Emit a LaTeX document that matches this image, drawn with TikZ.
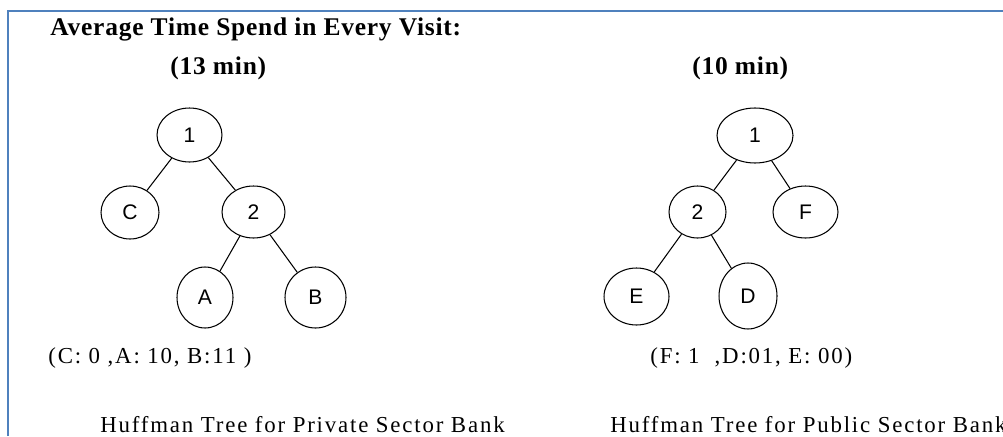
\documentclass[tikz,border=0pt]{standalone}
\usepackage{fontspec}
\setmainfont{Liberation Serif}
\setsansfont{Liberation Sans}
\usetikzlibrary{shapes.geometric}
\definecolor{framecol}{HTML}{4F81BD}

\tikzset{
  hnode/.style={draw,ellipse,inner sep=0pt,line width=0.6pt,font=\sffamily\fontsize{12}{14}\selectfont},
  hedge/.style={line width=0.6pt},
  heading/.style={anchor=west,inner sep=0pt,font=\bfseries\fontsize{14.5}{17}\selectfont\addfontfeatures{LetterSpace=3}},
  codes/.style={anchor=west,inner sep=0pt,font=\fontsize{13}{15}\selectfont\addfontfeatures{LetterSpace=8}}
}

\begin{document}
\begin{tikzpicture}[x=0.02cm,y=-0.02cm]
  \useasboundingbox (0,0) rectangle (1003,436);
  \clip (0,0) rectangle (1003,436);
  % frame
  \draw[framecol,line width=1.1pt] (8,436) -- (8,11) -- (1003,11);

  \node[heading] (title) at (50,29) {Average Time Spend in Every Visit:};
  \node[heading] (tl) at (170,68) {(13 min)};
  \node[heading] (tr) at (692,68) {(10 min)};

  % private sector tree
  \node (p1) at (189.5,135) [hnode,minimum width=1.30cm,minimum height=1.08cm] {1};
  \node (pc) at (130,212.5) [hnode,minimum width=1.16cm,minimum height=1.06cm] {C};
  \node (p2) at (253.5,212) [hnode,minimum width=1.26cm,minimum height=1.04cm] {2};
  \node (pa) at (205,297.5) [hnode,minimum width=1.12cm,minimum height=1.22cm] {A};
  \node (pb) at (315.5,297.5) [hnode,minimum width=1.22cm,minimum height=1.22cm] {B};
  \draw[hedge] (p1) -- (pc) (p1) -- (p2) (p2) -- (pa) (p2) -- (pb);

  % public sector tree
  \node (q1) at (755,135.5) [hnode,minimum width=1.52cm,minimum height=1.10cm] {1};
  \node (q2) at (697.5,212) [hnode,minimum width=1.14cm,minimum height=1.04cm] {2};
  \node (qf) at (805.5,212) [hnode,minimum width=1.30cm,minimum height=1.04cm] {F};
  \node (qe) at (636.5,296.5) [hnode,minimum width=1.30cm,minimum height=1.14cm] {E};
  \node (qd) at (748,296) [hnode,minimum width=1.16cm,minimum height=1.32cm] {D};
  \draw[hedge] (q1) -- (q2) (q1) -- (qf) (q2) -- (qe) (q2) -- (qd);

  \node[codes] (pcode) at (48,358) {(C: 0 ,A: 10, B:11 )};
  \node[codes] (qcode) at (650,358) {(F: 1\ \ ,D:01, E: 00)};
  \node[codes] (pcap) at (100,425) {Huffman Tree for Private Sector Bank};
  \node[codes] (qcap) at (610,425) {Huffman Tree for Public Sector Bank};
\end{tikzpicture}
\end{document}
